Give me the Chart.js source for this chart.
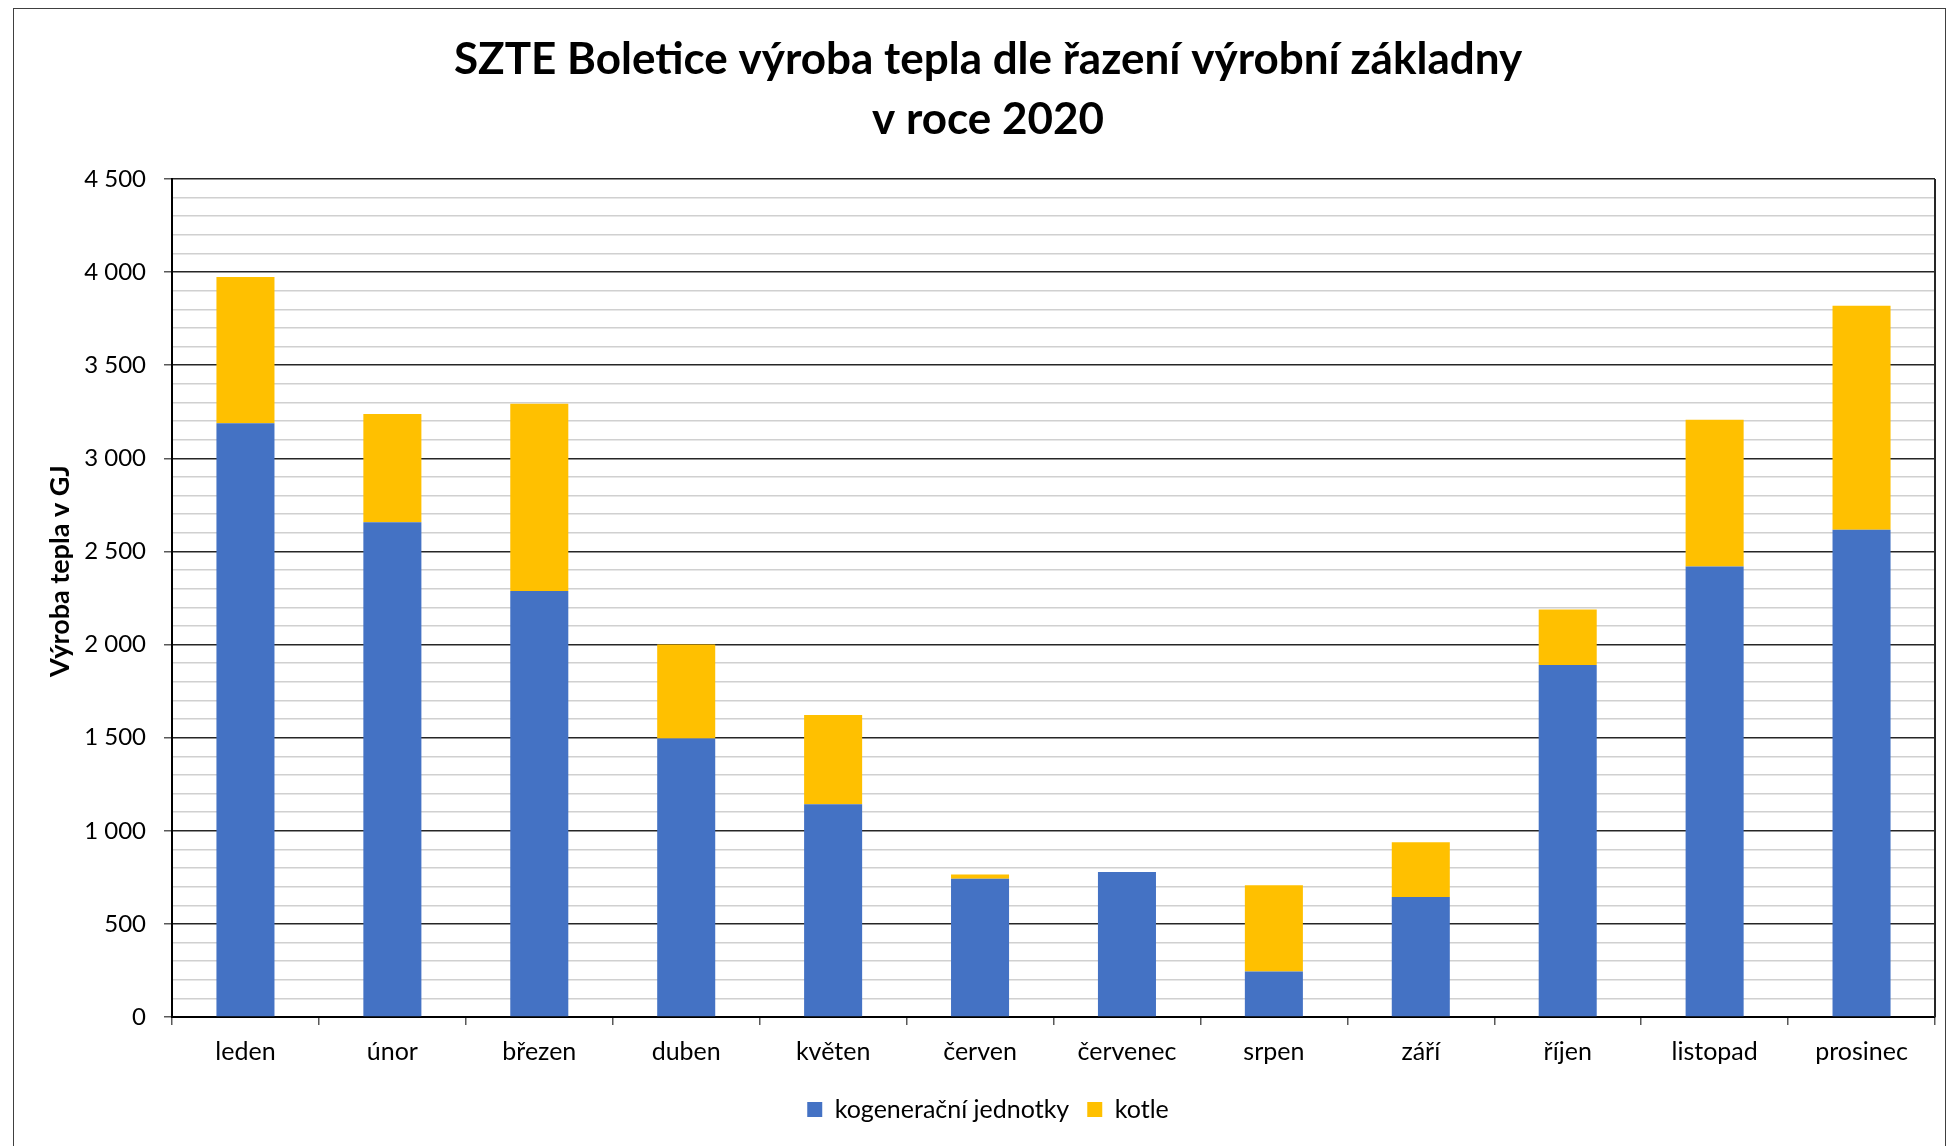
<!DOCTYPE html>
<html>
<head>
<meta charset="utf-8">
<script src="https://cdn.jsdelivr.net/npm/chart.js@4.4.1/dist/chart.umd.min.js"></script>
<style>
  html, body { margin: 0; padding: 0; background: #fff; overflow: hidden; }
  #wrap { position: relative; width: 1948px; height: 1146px; }
  #frame { position: absolute; left: 13px; top: 8px; width: 1931px; height: 2100px; border: 1.5px solid #404040; }
  #graph { position: absolute; left: 0; top: 0; }
</style>
</head>
<body>
<div id="wrap">
  <div id="frame"></div>
  <canvas id="graph" width="1948" height="1146"></canvas>
</div>
<script>
const months = ['leden', 'únor', 'březen', 'duben', 'květen', 'červen', 'červenec', 'srpen', 'září', 'říjen', 'listopad', 'prosinec'];
const kogenerace = [3188, 2657, 2287, 1495, 1142, 742, 778, 245, 644, 1890, 2419, 2617];
const kotle = [786, 581, 1006, 505, 480, 23, 0, 463, 295, 298, 788, 1202];
const chartTitle = ['SZTE Boletice výroba tepla dle řazení výrobní základny', 'v roce 2020'];
const yTitle = 'Výroba tepla v GJ';

const FONT = 'Lato';

// thousands with space, like the Czech excel output
function fmt(v) {
  return String(v).replace(/\B(?=(\d{3})+(?!\d))/g, ' ');
}

// right border of the plot area + the y title (excel puts it a bit above middle)
const plotExtras = {
  id: 'plotExtras',
  afterDraw(chart) {
    const a = chart.chartArea;
    const c = chart.ctx;
    c.save();
    c.strokeStyle = '#262626';
    c.lineWidth = 2;
    c.beginPath();
    c.moveTo(a.right, a.top);
    c.lineTo(a.right, a.bottom);
    c.stroke();

    c.translate(60, 571);
    c.rotate(-Math.PI / 2);
    c.fillStyle = '#000';
    c.font = 'bold 27px ' + FONT;
    c.textAlign = 'center';
    c.textBaseline = 'middle';
    c.fillText(yTitle, 0, 0);
    c.restore();
  }
};

const ctx = document.getElementById('graph').getContext('2d');
const chart = new Chart(ctx, {
  type: 'bar',
  data: {
    labels: months,
    datasets: [
      { label: 'kogenerační jednotky', data: kogenerace, backgroundColor: '#4472C4' },
      { label: 'kotle', data: kotle, backgroundColor: '#FFC000' }
    ]
  },
  options: {
    responsive: false,
    animation: false,
    devicePixelRatio: 1,
    categoryPercentage: 0.395,
    barPercentage: 1,
    layout: { padding: { top: 30, right: 13, left: 41, bottom: 14 } },
    plugins: {
      title: {
        display: true,
        text: chartTitle,
        color: '#000',
        font: { family: FONT, size: 44, weight: 'bold', lineHeight: '60px' },
        padding: { top: 0, bottom: 29 }
      },
      legend: {
        position: 'bottom',
        labels: {
          color: '#000',
          font: { family: FONT, size: 25 },
          boxWidth: 15,
          boxHeight: 15,
          padding: 18
        }
      },
      tooltip: { enabled: false }
    },
    scales: {
      x: {
        stacked: true,
        grid: { drawOnChartArea: false, drawTicks: true, tickLength: 8, color: '#595959', lineWidth: 1.5 },
        border: { color: '#000', width: 2 },
        ticks: { color: '#000', font: { family: FONT, size: 25 }, padding: 12, maxRotation: 0 }
      },
      y: {
        stacked: true,
        min: 0,
        max: 4500,
        afterFit(scale) { scale.width = 131; },
        grid: {
          tickLength: 8,
          color: (c) => c.tick.value % 500 === 0 ? '#262626' : '#d0d0d0',
          tickColor: (c) => c.tick.value % 500 === 0 ? '#595959' : 'rgba(0,0,0,0)',
          lineWidth: 1.5
        },
        border: { color: '#000', width: 2 },
        ticks: {
          stepSize: 100,
          autoSkip: false,
          color: '#000',
          padding: 18,
          font: { family: FONT, size: 24 },
          callback: (v) => v % 500 === 0 ? fmt(v) : ''
        }
      }
    }
  },
  plugins: [plotExtras]
});
</script>
</body>
</html>
